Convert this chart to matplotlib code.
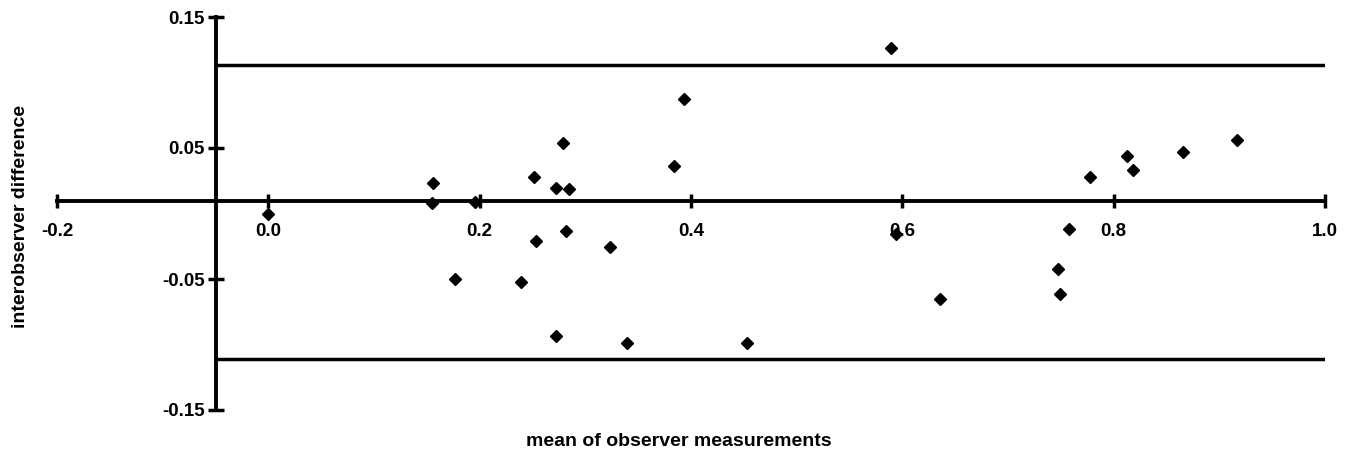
import matplotlib.pyplot as plt

# mean of the two observers (x) and their difference (y)
mean_vals = [0.000, 0.156, 0.155, 0.196, 0.177, 0.251, 0.253, 0.239, 0.279, 0.272,
             0.285, 0.282, 0.272, 0.323, 0.339, 0.384, 0.393, 0.453, 0.589, 0.594,
             0.636, 0.747, 0.749, 0.758, 0.778, 0.813, 0.818, 0.866, 0.917]
diff_vals = [0.0000, 0.0235, 0.0078, 0.0090, -0.0497, 0.0278, -0.0210, -0.0524, 0.0537, 0.0192,
             0.0189, -0.0131, -0.0936, -0.0257, -0.0987, 0.0364, 0.0873, -0.0991, 0.1264, -0.0158,
             -0.0656, -0.0424, -0.0618, -0.0119, 0.0281, 0.0440, 0.0331, 0.0471, 0.0560]

# limits of agreement
upper_limit = 0.1137
lower_limit = -0.1114

x_ticks = [-0.2, 0.0, 0.2, 0.4, 0.6, 0.8, 1.0]
y_ticks = [-0.15, -0.05, 0.05, 0.15]

plt.rcParams['font.family'] = ['Liberation Sans', 'DejaVu Sans']
plt.rcParams['font.weight'] = 'bold'

fig = plt.figure(figsize=(13.51, 4.58), dpi=100)
ax = fig.add_axes([57 / 1351, 48 / 458, 1268 / 1351, 393 / 458])

# data points
ax.plot(mean_vals, diff_vals, 'D', color='black', markersize=6, clip_on=False, zorder=3)

# limit lines
ax.hlines([upper_limit, lower_limit], -0.05, 1.0, color='black', linewidth=2.5)

ax.set_xlim(-0.2, 1.0)
ax.set_ylim(-0.15, 0.15)

# axes cross inside the plot
ax.spines['top'].set_visible(False)
ax.spines['right'].set_visible(False)
ax.spines['left'].set_position(('data', -0.05))
ax.spines['bottom'].set_position(('data', 0.0095))
for s in ['left', 'bottom']:
    ax.spines[s].set_linewidth(2.8)

ax.set_xticks(x_ticks)
ax.set_xticklabels(['%.1f' % v for v in x_ticks])
ax.set_yticks(y_ticks)
ax.set_yticklabels(['%.2f' % v for v in y_ticks])

ax.tick_params(axis='x', direction='inout', length=10, width=2.5, pad=11, labelsize=13.5)
ax.tick_params(axis='y', direction='inout', length=11, width=2.5, pad=2, labelsize=13.5)

# axis titles
fig.text(21 / 1351, (458 - 216) / 458, 'interobserver difference', rotation=90,
         ha='center', va='center', fontsize=14, fontweight='bold')
fig.text(679 / 1351, (458 - 442) / 458, 'mean of observer measurements',
         ha='center', va='center', fontsize=14, fontweight='bold')

plt.savefig('out.png', dpi=100)
